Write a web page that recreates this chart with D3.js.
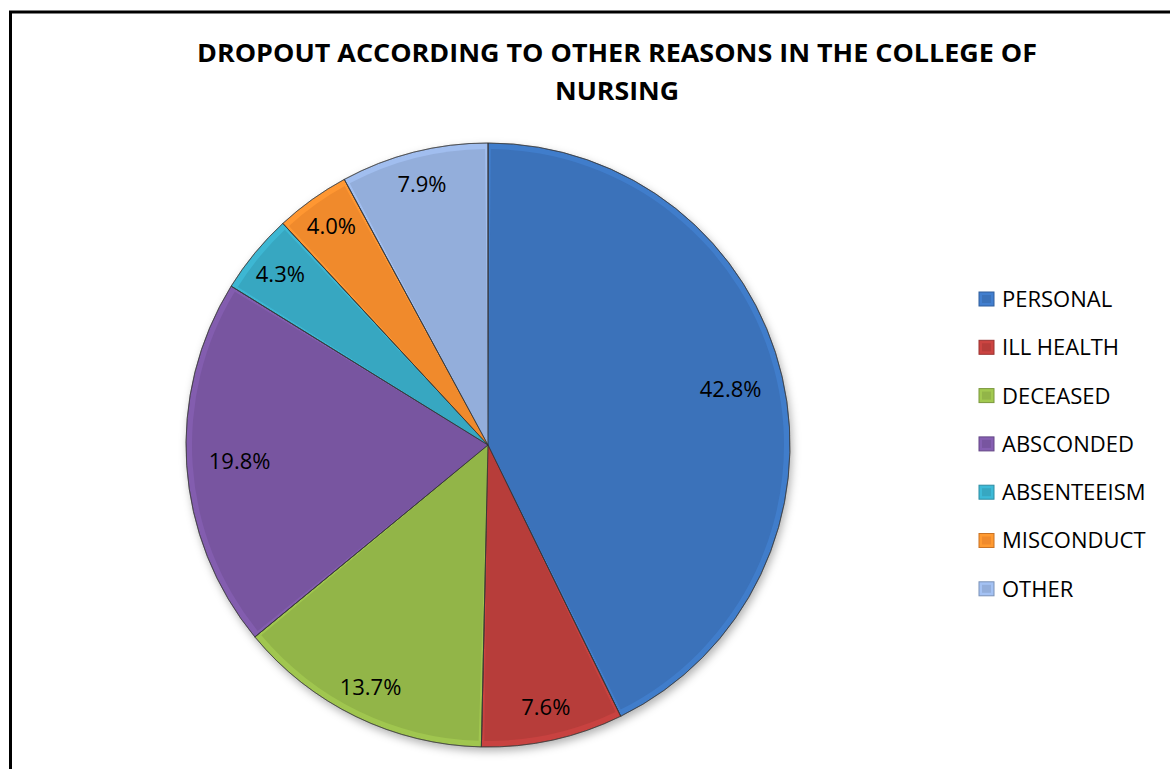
<!DOCTYPE html>
<html>
<head>
<meta charset="utf-8">
<script src="https://d3js.org/d3.v7.min.js"></script>
<style>
  body { margin: 0; background: #fff; }
  text { font-family: "Open Sans", "Noto Sans", sans-serif; fill: #000; }
</style>
</head>
<body>
<script>
// Chart data
var categories = ['PERSONAL', 'ILL HEALTH', 'DECEASED', 'ABSCONDED', 'ABSENTEEISM', 'MISCONDUCT', 'OTHER'];
var values = [42.8, 7.6, 13.7, 19.8, 4.3, 4.0, 7.9];
var colors = ['#3b72ba', '#b73d3a', '#92b548', '#7855a0', '#37a7c1', '#f08a2c', '#93aedb'];
var titleLines = ['DROPOUT ACCORDING TO OTHER REASONS IN THE COLLEGE OF', 'NURSING'];

// Dimensions
var width = 1170, height = 769;
var cx = 488, cy = 445, radius = 302;

var svg = d3.select('body')
    .append('svg')
    .attr('width', width)
    .attr('height', height);

var defs = svg.append('defs');
var shadow = defs.append('filter')
    .attr('id', 'shadow')
    .attr('x', '-10%').attr('y', '-10%')
    .attr('width', '120%').attr('height', '120%');
shadow.append('feDropShadow')
    .attr('dx', 2).attr('dy', 4)
    .attr('stdDeviation', 4)
    .attr('flood-color', '#000')
    .attr('flood-opacity', 0.3);

// Frame (only left and top edges are visible)
svg.append('rect')
    .attr('x', 10.5)
    .attr('y', 12)
    .attr('width', 1300)
    .attr('height', 900)
    .attr('fill', 'none')
    .attr('stroke', '#000')
    .attr('stroke-width', 3);

// Title
svg.selectAll('.title')
    .data(titleLines)
    .enter()
    .append('text')
    .attr('class', 'title')
    .attr('x', 617)
    .attr('y', function(d, i) { return 62 + i * 38; })
    .attr('text-anchor', 'middle')
    .attr('font-size', 25.5)
    .attr('font-weight', 'bold')
    .attr('textLength', function(d, i) { return i === 0 ? 840 : 124; })
    .attr('lengthAdjust', 'spacingAndGlyphs')
    .text(function(d) { return d; });

// Pie layout
var pie = d3.pie().sort(null).value(function(d) { return d; });
var arcs = pie(values);

var outerArc = d3.arc().innerRadius(0).outerRadius(radius);
var innerArc = d3.arc().innerRadius(0).outerRadius(radius - 6)
    .padAngle(0.03).padRadius(radius / 1.6);
// big slices keep their label closer to the centre
function labelRadius(d) { return (d.endAngle - d.startAngle) > 1 ? 249 : 269; }

var chart = svg.append('g')
    .attr('transform', 'translate(' + cx + ',' + cy + ')');

var slices = chart.append('g').attr('filter', 'url(#shadow)');

// Bevel rim
slices.selectAll('.rim')
    .data(arcs)
    .enter()
    .append('path')
    .attr('class', 'rim')
    .attr('d', outerArc)
    .attr('fill', function(d, i) { return d3.color(colors[i]).brighter(0.25); })
    .attr('stroke', '#3a3a3a')
    .attr('stroke-opacity', 0.6)
    .attr('stroke-width', 1);

// Slice face
chart.selectAll('.face')
    .data(arcs)
    .enter()
    .append('path')
    .attr('class', 'face')
    .attr('d', innerArc)
    .attr('fill', function(d, i) { return colors[i]; });

// Divider lines on top
chart.selectAll('.edge')
    .data(arcs)
    .enter()
    .append('path')
    .attr('class', 'edge')
    .attr('d', outerArc)
    .attr('fill', 'none')
    .attr('stroke', '#333')
    .attr('stroke-opacity', 0.55)
    .attr('stroke-width', 1);

// Value labels
chart.selectAll('.label')
    .data(arcs)
    .enter()
    .append('text')
    .attr('class', 'label')
    .attr('transform', function(d) {
        var r = labelRadius(d);
        return 'translate(' + d3.arc().innerRadius(r).outerRadius(r).centroid(d) + ')';
    })
    .attr('text-anchor', 'middle')
    .attr('dy', '0.35em')
    .attr('font-size', 22)
    .text(function(d) { return d.value.toFixed(1) + '%'; });

// Legend
var legend = svg.append('g')
    .attr('transform', 'translate(979,299)');

var items = legend.selectAll('.item')
    .data(categories)
    .enter()
    .append('g')
    .attr('class', 'item')
    .attr('transform', function(d, i) { return 'translate(0,' + (i * 48.3) + ')'; });

items.append('rect')
    .attr('x', 0).attr('y', -7)
    .attr('width', 15).attr('height', 14)
    .attr('fill', function(d, i) { return d3.color(colors[i]).brighter(0.3); })
    .attr('stroke', function(d, i) { return d3.color(colors[i]).darker(0.5); })
    .attr('stroke-width', 1);
items.append('rect')
    .attr('x', 3).attr('y', -4)
    .attr('width', 9).attr('height', 8)
    .attr('fill', function(d, i) { return colors[i]; });

items.append('text')
    .attr('x', 23)
    .attr('dy', '0.36em')
    .attr('font-size', 22)
    .text(function(d) { return d; });
</script>
</body>
</html>
